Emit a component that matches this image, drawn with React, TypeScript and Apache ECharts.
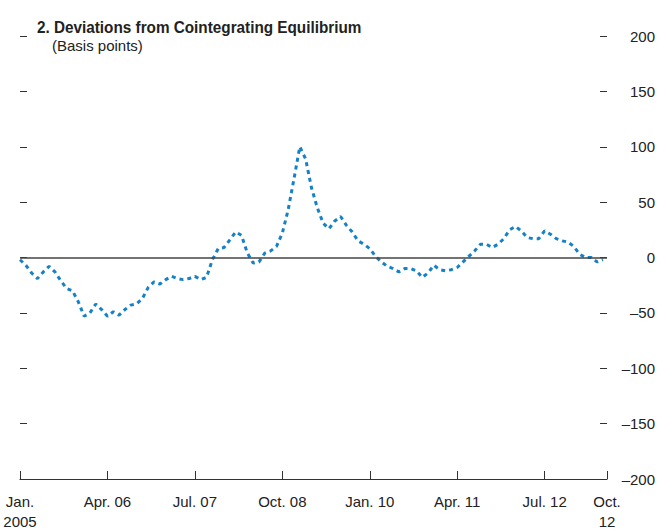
import React, { useEffect, useRef } from "react";
import * as echarts from "echarts";

// Monthly deviations (basis points), starting Jan. 2005
const values: number[] = [
  -2, -7, -14, -19, -13, -8, -13, -21, -28, -30,
  -40, -53, -50, -42, -47, -53, -49, -52, -47, -43,
  -42, -37, -27, -22, -24, -20, -17, -19, -20, -19,
  -17, -20, -18, -2, 8, 9, 16, 23, 20, 4,
  -5, -4, 4, 6, 10, 22, 43, 71, 100, 89,
  63, 45, 31, 26, 33, 37, 29, 23, 15, 12,
  8, 1, -4, -8, -10, -13, -10, -10, -12, -18,
  -14, -7, -11, -12, -11, -9, -4, 1, 6, 12,
  12, 9, 12, 17, 25, 28, 24, 18, 17, 17,
  24, 21, 17, 15, 14, 10, 3, 0, 0, -4,
  -2,
];

const xTickLabels: string[] = [
  "Jan.\n2005",
  "Apr. 06",
  "Jul. 07",
  "Oct. 08",
  "Jan. 10",
  "Apr. 11",
  "Jul. 12",
];
const xEndLabel = "Oct.\n12";

const yTicks: number[] = [-200, -150, -100, -50, 0, 50, 100, 150, 200];

const titleText = "2. Deviations from Cointegrating Equilibrium";
const subtitleText = "(Basis points)";

export default function App() {
  const ref = useRef<HTMLDivElement>(null);

  useEffect(() => {
    if (!ref.current) return;
    const chart = echarts.init(ref.current, undefined, { renderer: "svg" });
    const font = "'Liberation Sans', Arial, sans-serif";
    const axisColor = "#333";
    chart.setOption({
      animation: false,
      textStyle: { fontFamily: font },
      grid: { left: 20, right: 51, top: 36, bottom: 49, containLabel: false },
      graphic: [
        {
          type: "text",
          left: 37,
          top: 18,
          scaleX: 0.9,
          style: {
            text: titleText,
            font: `bold 17px ${font}`,
            fill: "#222",
          },
        },
        {
          type: "text",
          left: 52,
          top: 38,
          style: {
            text: subtitleText,
            font: `15px ${font}`,
            fill: "#222",
          },
        },
      ],
      xAxis: {
        type: "value",
        min: 0,
        max: 100.7,
        interval: 15,
        axisLine: { show: true, onZero: false, lineStyle: { color: axisColor, width: 1.2 } },
        axisTick: { show: true, inside: true, length: 8, lineStyle: { color: axisColor } },
        splitLine: { show: false },
        axisLabel: {
          show: true,
          showMinLabel: true,
          showMaxLabel: true,
          margin: 12,
          fontSize: 15,
          lineHeight: 20,
          color: "#222",
          fontFamily: font,
          formatter: (v: number) => {
            if (v > 95) return xEndLabel;
            return xTickLabels[Math.round(v / 15)] ?? "";
          },
        },
      },
      yAxis: [
        {
          type: "value",
          position: "right",
          min: yTicks[0],
          max: yTicks[yTicks.length - 1],
          interval: 50,
          axisLine: { show: false, onZero: false },
          axisTick: { show: true, inside: true, length: 7, lineStyle: { color: axisColor } },
          splitLine: { show: false },
          axisLabel: {
            align: "right",
            margin: 48,
            fontSize: 15,
            color: "#222",
            fontFamily: font,
            formatter: (v: number) => (v < 0 ? "\u2013" + Math.abs(v) : String(v)),
          },
        },
        {
          type: "value",
          position: "left",
          min: yTicks[0],
          max: yTicks[yTicks.length - 1],
          interval: 50,
          axisLine: { show: false, onZero: false },
          axisTick: { show: true, inside: true, length: 7, lineStyle: { color: axisColor } },
          splitLine: { show: false },
          axisLabel: { show: false },
        },
      ],
      series: [
        {
          type: "line",
          yAxisIndex: 0,
          data: values.map((v, i) => [i, v]),
          showSymbol: false,
          smooth: false,
          lineStyle: { color: "#1581c6", width: 3, type: [4, 4] },
          markLine: {
            silent: true,
            symbol: ["none", "none"],
            label: { show: false },
            lineStyle: { color: "#444", width: 1.5, type: "solid" },
            data: [{ yAxis: 0 }],
          },
        },
      ],
    });
    return () => chart.dispose();
  }, []);

  return (
    <div
      ref={ref}
      style={{ position: "fixed", left: 0, top: 0, width: 658, height: 531, background: "#fff" }}
    />
  );
}
